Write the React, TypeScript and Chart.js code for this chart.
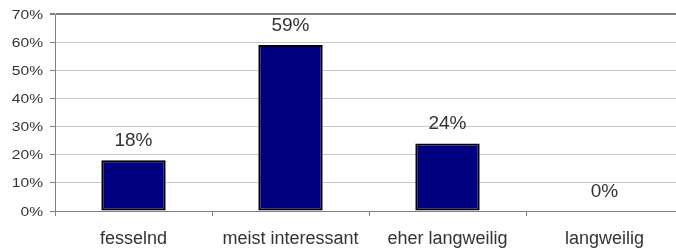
import React, { useEffect, useRef } from "react";
import { Chart, registerables } from "chart.js";

Chart.register(...registerables);

const categories = ["fesselnd", "meist interessant", "eher langweilig", "langweilig"];
const values = [18, 59, 24, 0];
const yTicks = [0, 10, 20, 30, 40, 50, 60, 70];

const FONT = "'Liberation Sans', Arial, sans-serif";

const dataLabelPlugin = {
  id: "dataLabels",
  afterDatasetsDraw(chart: any) {
    const ctx = chart.ctx;
    const meta = chart.getDatasetMeta(0);
    ctx.save();
    ctx.font = `19px ${FONT}`;
    ctx.fillStyle = "#333333";
    ctx.textAlign = "center";
    ctx.textBaseline = "alphabetic";
    meta.data.forEach((bar: any, i: number) => {
      ctx.fillText(`${values[i]}%`, bar.x, bar.y - 14);
    });
    ctx.restore();
  },
};

// y tick labels drawn with a slight horizontal stretch, as in the reference
const yLabelPlugin = {
  id: "yLabels",
  afterDraw(chart: any) {
    const ctx = chart.ctx;
    const y = chart.scales.y;
    const sx = 1.2;
    const right = 43;
    ctx.save();
    ctx.font = `13px ${FONT}`;
    ctx.fillStyle = "#333333";
    ctx.textAlign = "right";
    ctx.textBaseline = "middle";
    ctx.scale(sx, 1);
    yTicks.forEach((v) => {
      ctx.fillText(`${v}%`, right / sx, y.getPixelForValue(v) + 1);
    });
    ctx.restore();
  },
};

export default function App() {
  const ref = useRef<HTMLCanvasElement | null>(null);
  useEffect(() => {
    document.body.style.margin = "0";
    const chart = new Chart(ref.current!, {
      type: "bar",
      data: {
        labels: categories,
        datasets: [
          {
            data: values,
            backgroundColor: "#000080",
            borderColor: "#000000",
            borderWidth: 2,
            borderSkipped: false,
            categoryPercentage: 1,
            barPercentage: 0.41,
          },
        ],
      },
      options: {
        responsive: false,
        animation: false,
        layout: { padding: { top: 14, right: 1, left: 0, bottom: 0 } },
        plugins: { legend: { display: false }, tooltip: { enabled: false } },
        scales: {
          x: {
            afterFit: (s: any) => {
              s.height = 39;
            },
            grid: {
              drawOnChartArea: false,
              drawTicks: true,
              tickLength: 5,
              color: "#808080",
              offset: true,
            },
            border: { color: "#808080", width: 1 },
            ticks: {
              color: "#333333",
              font: { family: FONT, size: 18 },
              padding: 12,
            },
          },
          y: {
            min: 0,
            max: 70,
            afterFit: (s: any) => {
              s.width = 55;
            },
            afterBuildTicks: (s: any) => {
              s.ticks = yTicks.map((v) => ({ value: v }));
            },
            grid: {
              color: (c: any) => (c.tick && c.tick.value === 70 ? "#808080" : "#c8c8c8"),
              lineWidth: (c: any) => (c.tick && c.tick.value === 70 ? 2 : 1),
              tickColor: "#808080",
              tickLength: 5,
            },
            border: { color: "#808080", width: 1 },
            ticks: {
              display: false,
            },
          },
        },
      },
      plugins: [dataLabelPlugin, yLabelPlugin],
    });
    return () => chart.destroy();
  }, []);
  return (
    <div style={{ position: "absolute", left: 0, top: 0, width: 676, height: 250, overflow: "hidden", background: "#fff" }}>
      <canvas ref={ref} width={684} height={250} style={{ width: 684, height: 250, display: "block" }} />
    </div>
  );
}
